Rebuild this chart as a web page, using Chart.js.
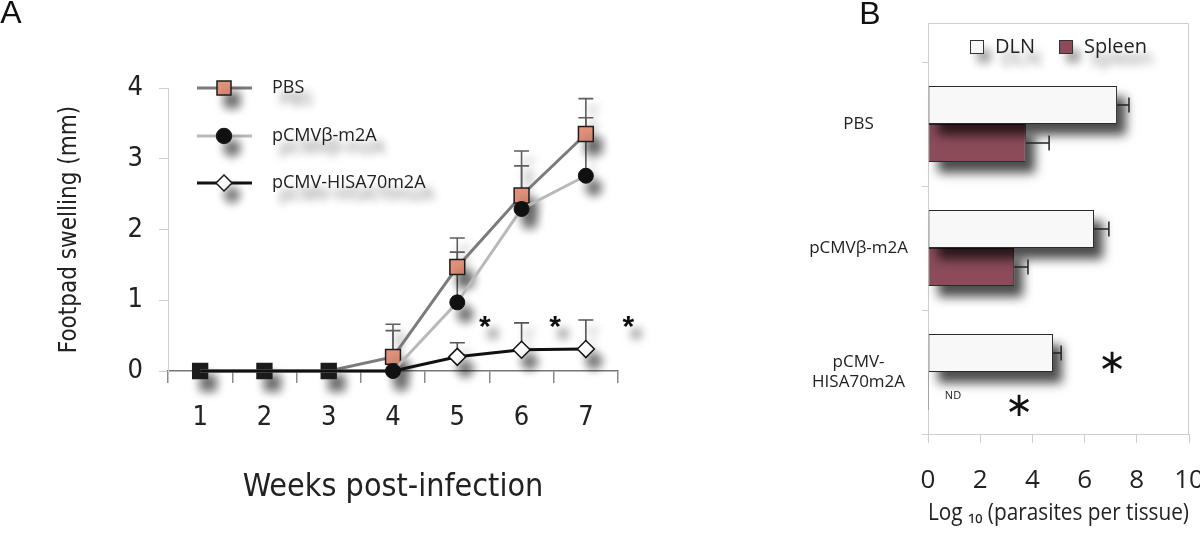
<!DOCTYPE html>
<html><head><meta charset="utf-8">
<script src="https://cdn.jsdelivr.net/npm/chart.js@4.4.1/dist/chart.umd.min.js"></script>
<style>
html,body{margin:0;padding:0;background:#fff;overflow:hidden}
#wrapA{position:absolute;left:0;top:0;width:720px;height:533px}
#wrapB{position:absolute;left:720px;top:0;width:480px;height:533px}
</style></head><body>
<div id="wrapA"><canvas id="chartA" width="720" height="533"></canvas></div>
<div id="wrapB"><canvas id="chartB" width="480" height="533"></canvas></div>
<script>
// ---------- Panel A data ----------
const weeks = ['1','2','3','4','5','6','7'];
const pbsSwelling  = [0, 0, 0, 0.20, 1.47, 2.48, 3.35];
const pbsSD        = [0, 0, 0, 0.46, 0.41, 0.63, 0.50];
const m2aSwelling  = [0, 0, 0, 0.00, 0.97, 2.29, 2.76];
const m2aSD        = [0, 0, 0, 0.57, 0.71, 0.61, 0.82];
const hisaSwelling = [0, 0, 0, 0.00, 0.20, 0.30, 0.31];
const hisaSD       = [0, 0, 0, 0.00, 0.20, 0.38, 0.41];
const starWeeksA = [5.43, 6.52, 7.66];
const starLevelA = 0.69;
const yTicksA = [0, 1, 2, 3, 4];

// ---------- Panel B data ----------
const groups = ['PBS', 'pCMVβ-m2A', ['pCMV-', 'HISA70m2A']];
const dlnLog    = [7.24, 6.36, 4.79];
const dlnSD     = [0.46, 0.57, 0.31];
const spleenLog = [3.75, 3.30, 0];
const spleenSD  = [0.89, 0.53, 0];
const xTicksB = [0, 2, 4, 6, 8, 10];
const starValuesB = [7.05, 3.49];
const starGroupB  = [2, 2];
const starSeriesB = [0, 1];
const ndGroupB = 2;

// ---------- styling helpers ----------
const COND = "'Liberation Sans Narrow','DejaVu Sans Condensed','Open Sans',sans-serif";
const SANS = "'Open Sans','Liberation Sans',sans-serif";
const SHADOW = {color:'rgba(0,0,0,0.6)', blur:10, x:8, y:12};
const SOFT = {color:'rgba(0,0,0,0.35)', blur:8, x:7, y:9};
function setShadow(ctx, s){ctx.shadowColor=s.color;ctx.shadowBlur=s.blur;ctx.shadowOffsetX=s.x;ctx.shadowOffsetY=s.y;}
function textCentered(ctx, t, x, y){
  ctx.textAlign='center'; ctx.textBaseline='alphabetic';
  const m = ctx.measureText(t);
  ctx.fillText(t, x, y + (m.actualBoundingBoxAscent - m.actualBoundingBoxDescent)/2);
}

// shadows on point markers
const PointEl = Chart.registry.getElement('point');
const origPointDraw = PointEl.prototype.draw;
PointEl.prototype.draw = function(ctx, area){
  ctx.save(); setShadow(ctx, SHADOW); origPointDraw.call(this, ctx, area); ctx.restore();
};
// shadows on bars
const BarEl = Chart.registry.getElement('bar');
const origBarDraw = BarEl.prototype.draw;
BarEl.prototype.draw = function(ctx){
  const p = this.getProps(['x','y','base','height','horizontal']);
  if (p.horizontal) {
    const l = Math.min(p.x, p.base), r = Math.max(p.x, p.base);
    if (r - l > 2) {
      ctx.save(); setShadow(ctx, {color:'rgba(0,0,0,0.7)', blur:10, x:9, y:11});
      ctx.fillStyle = '#fff'; ctx.fillRect(l, p.y - p.height/2, r - l, p.height); ctx.restore();
    }
  }
  origBarDraw.call(this, ctx);
};

// ---------- Panel A plugins ----------
const errorBarsA = {
  id:'errorBarsA',
  beforeDatasetsDraw(chart){
    const ctx = chart.ctx, y = chart.scales.y;
    chart.data.datasets.forEach((ds, i) => {
      const meta = chart.getDatasetMeta(i);
      ds.errors.forEach((e, j) => {
        if (!e) return;
        const px = meta.data[j].x, y0 = y.getPixelForValue(ds.data[j]), y1 = y.getPixelForValue(ds.data[j] + e);
        ctx.save(); setShadow(ctx, SOFT);
        ctx.strokeStyle = ds.errorColor; ctx.lineWidth = 1.6;
        ctx.beginPath(); ctx.moveTo(px, y0); ctx.lineTo(px, y1);
        ctx.moveTo(px - 7.5, y1); ctx.lineTo(px + 7.5, y1); ctx.stroke();
        ctx.restore();
      });
    });
  }
};
const decorA = {
  id:'decorA',
  afterDatasetsDraw(chart){
    const ctx = chart.ctx, x = chart.scales.x, y = chart.scales.y, ca = chart.chartArea;
    // significance stars
    ctx.save(); setShadow(ctx, SHADOW); ctx.fillStyle = '#111';
    ctx.font = "bold 30px 'Liberation Sans',Arial,sans-serif";
    starWeeksA.forEach(w => textCentered(ctx, '*', x.getPixelForValue(w - 1), y.getPixelForValue(starLevelA)));
    ctx.restore();
    // legend inside plot
    const rows = [0, 48, 95];
    chart.data.datasets.forEach((ds, i) => {
      const ry = ca.top + rows[i], lx0 = ca.left + 29, lx1 = ca.left + 84, mx = ca.left + 56;
      ctx.save();
      ctx.strokeStyle = ds.borderColor; ctx.lineWidth = 3;
      ctx.beginPath(); ctx.moveTo(lx0, ry); ctx.lineTo(lx1, ry); ctx.stroke();
      setShadow(ctx, SHADOW);
      ctx.fillStyle = ds.legendFill; ctx.strokeStyle = '#1c1c1c'; ctx.lineWidth = 1.5;
      ctx.beginPath();
      if (ds.pointStyle === 'rect') ctx.rect(mx - 7, ry - 7, 14, 14);
      else if (ds.pointStyle === 'circle') ctx.arc(mx, ry, 7.5, 0, Math.PI * 2);
      else { ctx.moveTo(mx, ry - 8); ctx.lineTo(mx + 8, ry); ctx.lineTo(mx, ry + 8); ctx.lineTo(mx - 8, ry); ctx.closePath(); }
      ctx.fill(); ctx.stroke();
      ctx.fillStyle = '#222'; ctx.font = '18px ' + SANS; ctx.textAlign = 'left'; ctx.textBaseline = 'middle';
      setShadow(ctx, {color:'rgba(0,0,0,0.6)', blur:9, x:8, y:12});
      ctx.fillText(ds.label, ca.left + 104, ry);
      ctx.restore();
    });
    // panel letter
    ctx.save(); ctx.fillStyle = '#111'; ctx.font = "32px 'Liberation Sans',Arial,sans-serif";
    textCentered(ctx, 'A', 11, 12); ctx.restore();
  }
};

const darkPts = '#1c1c1c', salmon = '#e2927a';
new Chart(document.getElementById('chartA'), {
  type:'line',
  data:{
    labels: weeks,
    datasets:[
      {label:'PBS', data:pbsSwelling, errors:pbsSD, errorColor:'#5e5e5e', order:2, clip:false,
       borderColor:'#7b7b7b', borderWidth:3, tension:0, pointStyle:'rect', pointRadius:10.5, pointHoverRadius:10.5,
       pointBackgroundColor:[darkPts, darkPts, darkPts, salmon, salmon, salmon, salmon], legendFill:salmon,
       pointBorderColor:darkPts, pointBorderWidth:1.5},
      {label:'pCMVβ-m2A', data:m2aSwelling, errors:m2aSD, errorColor:'#5e5e5e', order:1, clip:false,
       borderColor:'#b9b9b9', borderWidth:3, tension:0, pointStyle:'circle', pointRadius:[0,0,0,7.5,7.5,7.5,7.5],
       pointHoverRadius:[0,0,0,7.5,7.5,7.5,7.5], pointBackgroundColor:'#111', legendFill:'#111',
       pointBorderColor:'#111', pointBorderWidth:1},
      {label:'pCMV-HISA70m2A', data:hisaSwelling, errors:hisaSD, errorColor:'#555', order:0, clip:false,
       borderColor:'#111', borderWidth:3, tension:0, pointStyle:'rectRot', pointRadius:[0,0,0,0,8.5,8.5,8.5],
       pointHoverRadius:[0,0,0,0,8.5,8.5,8.5], pointBackgroundColor:'#fff', legendFill:'#fff',
       pointBorderColor:'#111', pointBorderWidth:1.5}
    ]
  },
  options:{
    responsive:false, animation:false, events:[],
    layout:{padding:{top:88, right:102, left:0, bottom:0}},
    plugins:{legend:{display:false}, tooltip:{enabled:false}},
    scales:{
      x:{type:'category', offset:true,
         grid:{offset:true, drawOnChartArea:false, tickLength:12, color:'#8a8a8a', lineWidth:1.5},
         border:{color:'#777', width:1.5},
         ticks:{font:{family:COND, size:27}, color:'#222', padding:19, maxRotation:0},
         title:{display:true, text:'Weeks post-infection', font:{family:COND, size:32}, color:'#222', padding:{top:0, bottom:26}},
         afterFit(s){ s.height = 162; }},
      y:{min:0, max:4,
         afterBuildTicks(s){ s.ticks = yTicksA.map(v => ({value:v})); },
         grid:{drawOnChartArea:false, tickLength:9, color:'#cfcfcf'},
         border:{color:'#cfcfcf'},
         ticks:{font:{family:COND, size:27}, color:'#222', padding:16},
         title:{display:true, text:'Footpad swelling (mm)', font:{family:COND, size:24}, color:'#222', padding:{top:55, bottom:0}},
         afterFit(s){ s.width = 168; }}
    }
  },
  plugins:[errorBarsA, decorA]
});

// ---------- Panel B plugins ----------
const frameB = {
  id:'frameB',
  beforeDatasetsDraw(chart){
    const ctx = chart.ctx, ca = chart.chartArea;
    ctx.save(); ctx.strokeStyle = '#cfcfcf'; ctx.lineWidth = 1;
    ctx.beginPath();
    ctx.moveTo(ca.left + 0.5, ca.top); ctx.lineTo(ca.left + 0.5, 23.5);
    ctx.lineTo(ca.right - 0.5, 23.5); ctx.lineTo(ca.right - 0.5, ca.bottom);
    ctx.stroke(); ctx.restore();
  }
};
const starOffsetB = [9, 14];
const decorB = {
  id:'decorB',
  afterDatasetsDraw(chart){
    const ctx = chart.ctx, x = chart.scales.x, ca = chart.chartArea;
    // error bars
    chart.data.datasets.forEach((ds, i) => {
      const meta = chart.getDatasetMeta(i);
      ds.errors.forEach((e, j) => {
        if (!e) return;
        const by = meta.data[j].y, x0 = x.getPixelForValue(ds.data[j]), x1 = x.getPixelForValue(ds.data[j] + e);
        ctx.save(); ctx.strokeStyle = '#222'; ctx.lineWidth = 1.5;
        ctx.beginPath(); ctx.moveTo(x0, by); ctx.lineTo(x1, by);
        ctx.moveTo(x1, by - 7.5); ctx.lineTo(x1, by + 7.5); ctx.stroke(); ctx.restore();
      });
    });
    // stars
    ctx.save(); ctx.fillStyle = '#111'; ctx.font = "34px 'DejaVu Sans',sans-serif";
    starValuesB.forEach((v, k) => {
      const bar = chart.getDatasetMeta(starSeriesB[k]).data[starGroupB[k]];
      textCentered(ctx, '∗', x.getPixelForValue(v), bar.y + starOffsetB[k]);
    });
    ctx.restore();
    // ND
    const ndBar = chart.getDatasetMeta(1).data[ndGroupB];
    ctx.save(); ctx.fillStyle = '#222'; ctx.font = '11px ' + SANS;
    textCentered(ctx, 'ND', ca.left + 25, ndBar.y + 4); ctx.restore();
  },
  afterDraw(chart){
    const ctx = chart.ctx, ca = chart.chartArea;
    // legend
    ctx.save(); ctx.font = '20px ' + SANS;
    const items = chart.data.datasets.map(ds => ({label:ds.label, fill:ds.backgroundColor, w:ctx.measureText(ds.label).width}));
    const total = items.reduce((a, it) => a + 14 + 11 + it.w, 0) + 24;
    let cx = (ca.left + ca.right) / 2 - total / 2;
    const ly = 47;
    items.forEach(it => {
      ctx.save(); setShadow(ctx, SOFT);
      ctx.fillStyle = it.fill; ctx.strokeStyle = '#333'; ctx.lineWidth = 1;
      ctx.fillRect(cx, ly - 7, 14, 14); ctx.shadowColor = 'transparent'; ctx.strokeRect(cx + 0.5, ly - 6.5, 13, 13);
      ctx.restore();
      ctx.save(); setShadow(ctx, {color:'rgba(0,0,0,0.5)', blur:9, x:6, y:12});
      ctx.fillStyle = '#222'; ctx.textAlign = 'left'; ctx.textBaseline = 'middle';
      ctx.fillText(it.label, cx + 25, ly); ctx.restore();
      cx += 14 + 11 + it.w + 24;
    });
    ctx.restore();
    // panel letter
    ctx.save(); ctx.fillStyle = '#111'; ctx.font = "32px 'Liberation Sans',Arial,sans-serif";
    textCentered(ctx, 'B', 150, 13); ctx.restore();
  }
};

new Chart(document.getElementById('chartB'), {
  type:'bar',
  data:{
    labels: groups,
    datasets:[
      {label:'DLN', data:dlnLog, errors:dlnSD, backgroundColor:'#f8f8f8', borderColor:'#2a2a2a', borderWidth:1, borderSkipped:false, clip:false},
      {label:'Spleen', data:spleenLog, errors:spleenSD, backgroundColor:'#8b4b59', borderColor:'#2a2a2a', borderWidth:1, borderSkipped:false, minBarLength:1, clip:false}
    ]
  },
  options:{
    indexAxis:'y', responsive:false, animation:false, events:[],
    categoryPercentage:0.613, barPercentage:1,
    layout:{padding:{top:62, right:11, left:0, bottom:0}},
    plugins:{legend:{display:false}, tooltip:{enabled:false}},
    scales:{
      x:{min:0, max:10,
         afterBuildTicks(s){ s.ticks = xTicksB.map(v => ({value:v})); },
         grid:{drawOnChartArea:false, tickLength:9, color:'#cfcfcf'},
         border:{color:'#cfcfcf'},
         ticks:{font:{family:SANS, size:26}, color:'#222', padding:22},
         title:{display:true, text:'Log ₁₀ (parasites per tissue)', font:{family:SANS, size:23}, color:'#222', padding:{top:0, bottom:6}},
         afterFit(s){ s.height = 99; s.paddingLeft = 0; s.paddingRight = 0; }},
      y:{offset:true,
         grid:{offset:true, drawOnChartArea:false, tickLength:6, color:'#cfcfcf'},
         border:{color:'#cfcfcf'},
         ticks:{font:{family:SANS, size:17}, color:'#222', padding:14, crossAlign:'center'},
         afterFit(s){ s.width = 208; s.paddingTop = 0; s.paddingBottom = 0; }}
    }
  },
  plugins:[frameB, decorB]
});
</script>
</body></html>
